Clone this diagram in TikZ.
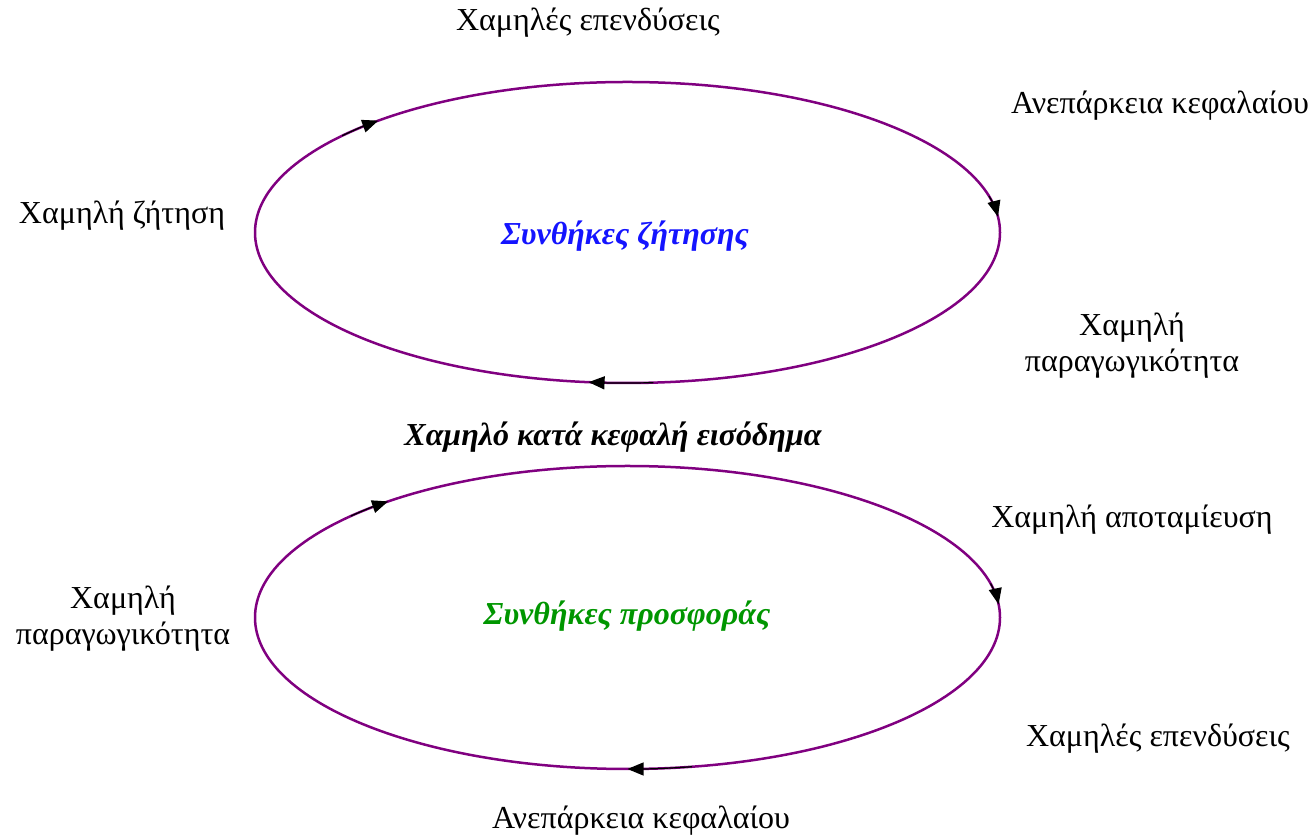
\documentclass[tikz,border=0pt]{standalone}
\usepackage{fontspec}
\setmainfont{Liberation Serif}
\usetikzlibrary{arrows.meta}
\definecolor{cyclepurple}{RGB}{128,0,128}
\definecolor{demandblue}{RGB}{20,20,255}
\definecolor{supplygreen}{RGB}{0,150,0}
\tikzset{
  lbl/.style={font=\fontsize{32}{36}\selectfont, align=center, inner sep=0pt},
  ttl/.style={font=\fontsize{32}{36}\selectfont\bfseries\itshape, inner sep=0pt},
  cycle/.style={draw=cyclepurple, line width=2.5pt},
  tip/.style={draw=black, line width=1.2pt, -{Triangle[length=16pt,width=13pt]}},
}
\begin{document}
\begin{tikzpicture}[x=1pt,y=1pt]
\useasboundingbox (0,0) rectangle (1311,837);
% ellipse centers
\coordinate (c1) at (627.5,604.5);
\coordinate (c2) at (627.5,219.5);
\draw[cycle] (c1) ellipse [x radius=372.5, y radius=150.5];
\draw[cycle] (c2) ellipse [x radius=372.5, y radius=151.5];
% arrowheads, clockwise
\draw[tip] (c1) ++(140:372.5 and 150.5) arc[start angle=140, end angle=132, x radius=372.5, y radius=150.5];
\draw[tip] (c1) ++(14:372.5 and 150.5) arc[start angle=14, end angle=6, x radius=372.5, y radius=150.5];
\draw[tip] (c1) ++(-86:372.5 and 150.5) arc[start angle=-86, end angle=-96, x radius=372.5, y radius=150.5];
\draw[tip] (c2) ++(138:372.5 and 151.5) arc[start angle=138, end angle=130, x radius=372.5, y radius=151.5];
\draw[tip] (c2) ++(13:372.5 and 151.5) arc[start angle=13, end angle=5, x radius=372.5, y radius=151.5];
\draw[tip] (c2) ++(-80:372.5 and 151.5) arc[start angle=-80, end angle=-90, x radius=372.5, y radius=151.5];
% labels
\node[lbl] (t1) at (588,814) {Χαμηλές επενδύσεις};
\node[lbl] (t2) at (1160,731) {Ανεπάρκεια κεφαλαίου};
\node[lbl] (t3) at (122,621) {Χαμηλή ζήτηση};
\node[ttl, text=demandblue] (d) at (625,601) {Συνθήκες ζήτησης};
\node[lbl] (t4) at (1132,491) {Χαμηλή\\παραγωγικότητα};
\node[ttl] (m) at (613,400) {Χαμηλό κατά κεφαλή εισόδημα};
\node[lbl] (t5) at (1132,317) {Χαμηλή αποταμίευση};
\node[lbl] (t6) at (123,218) {Χαμηλή\\παραγωγικότητα};
\node[ttl, text=supplygreen] (s) at (627,221) {Συνθήκες προσφοράς};
\node[lbl] (t7) at (1158,98) {Χαμηλές επενδύσεις};
\node[lbl] (t8) at (641,16) {Ανεπάρκεια κεφαλαίου};
\end{tikzpicture}
\end{document}
